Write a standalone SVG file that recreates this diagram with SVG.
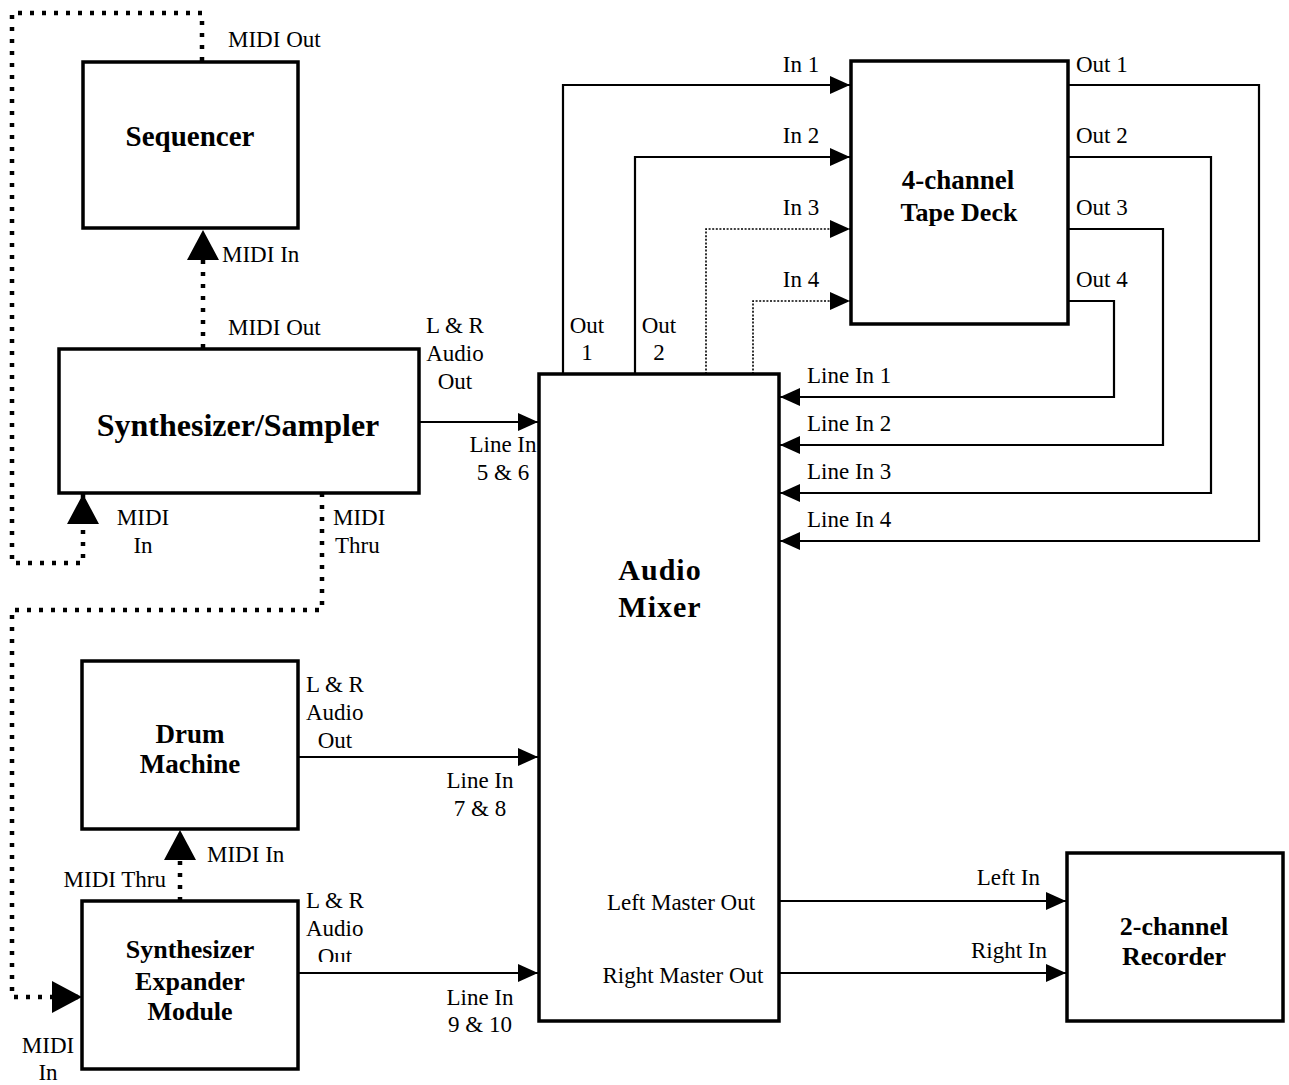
<svg xmlns="http://www.w3.org/2000/svg" width="1289" height="1085" viewBox="0 0 1289 1085">
<style>
.box{fill:#fff;stroke:#000;stroke-width:3.5}
.t{font-family:"Liberation Serif","Times New Roman",serif;font-size:23px;fill:#000}
.b{font-family:"Liberation Serif","Times New Roman",serif;font-weight:bold;fill:#000;text-anchor:middle}
.m{text-anchor:middle}
.e{text-anchor:end}
.solid{fill:none;stroke:#000;stroke-width:2.2}
.thin{fill:none;stroke:#000;stroke-width:1.6;stroke-dasharray:2 1.6}
.midi{fill:none;stroke:#000;stroke-width:4.5;stroke-dasharray:4 8}
</style>
<defs>
<marker id="a" markerUnits="userSpaceOnUse" markerWidth="22" markerHeight="20" refX="20" refY="9" orient="auto"><path d="M0,0 L20,9 L0,18 Z" fill="#000"/></marker>
<marker id="big" markerUnits="userSpaceOnUse" markerWidth="32" markerHeight="34" refX="30" refY="16" orient="auto"><path d="M0,0 L30,16 L0,32 Z" fill="#000"/></marker>
<clipPath id="clipOut"><rect x="290" y="940" width="100" height="22"/></clipPath>
</defs>
<rect width="1289" height="1085" fill="#fff"/>
<g id="connectors">
<path class="midi" d="M202,61 V13 H12 V563 H83 V494" marker-end="url(#big)"/>
<path class="midi" d="M203,348 V230" marker-end="url(#big)"/>
<path class="midi" d="M322,493 V610 H12 V997 H82" marker-end="url(#big)"/>
<path class="midi" d="M180,901 V830" marker-end="url(#big)"/>
<path class="solid" d="M419,422 H538" marker-end="url(#a)"/>
<path class="solid" d="M298,757 H538" marker-end="url(#a)"/>
<path class="solid" d="M298,973 H538" marker-end="url(#a)"/>
<path class="solid" d="M563,374 V85 H850" marker-end="url(#a)"/>
<path class="solid" d="M635,374 V157 H850" marker-end="url(#a)"/>
<path class="thin" d="M706,374 V229 H850" marker-end="url(#a)"/>
<path class="thin" d="M753,374 V301 H850" marker-end="url(#a)"/>
<path class="solid" d="M1068,85 H1259 V541 H780" marker-end="url(#a)"/>
<path class="solid" d="M1068,157 H1211 V493 H780" marker-end="url(#a)"/>
<path class="solid" d="M1068,229 H1163 V445 H780" marker-end="url(#a)"/>
<path class="solid" d="M1068,301 H1114 V397 H780" marker-end="url(#a)"/>
<path class="solid" d="M779,901 H1066" marker-end="url(#a)"/>
<path class="solid" d="M779,973 H1066" marker-end="url(#a)"/>
<text class="t" x="228" y="47">MIDI Out</text>
<text class="t" x="222" y="262">MIDI In</text>
<text class="t" x="228" y="335">MIDI Out</text>
<text class="t m" x="143" y="525">MIDI</text>
<text class="t m" x="143" y="553">In</text>
<text class="t" x="333" y="525">MIDI</text>
<text class="t" x="335" y="553">Thru</text>
<text class="t m" x="455" y="333">L &amp; R</text>
<text class="t m" x="455" y="361">Audio</text>
<text class="t m" x="455" y="389">Out</text>
<text class="t m" x="503" y="452">Line In</text>
<text class="t m" x="503" y="480">5 &amp; 6</text>
<text class="t" x="306" y="692">L &amp; R</text>
<text class="t" x="306" y="720">Audio</text>
<text class="t m" x="335" y="748">Out</text>
<text class="t m" x="480" y="788">Line In</text>
<text class="t m" x="480" y="816">7 &amp; 8</text>
<text class="t" x="207" y="862">MIDI In</text>
<text class="t e" x="166" y="887">MIDI Thru</text>
<text class="t" x="306" y="908">L &amp; R</text>
<text class="t" x="306" y="936">Audio</text>
<text class="t m" x="335" y="964" clip-path="url(#clipOut)">Out</text>
<text class="t m" x="480" y="1005">Line In</text>
<text class="t m" x="480" y="1032">9 &amp; 10</text>
<text class="t m" x="48" y="1053">MIDI</text>
<text class="t m" x="48" y="1080">In</text>
<text class="t m" x="801" y="72">In 1</text>
<text class="t m" x="801" y="143">In 2</text>
<text class="t m" x="801" y="215">In 3</text>
<text class="t m" x="801" y="287">In 4</text>
<text class="t m" x="587" y="333">Out</text>
<text class="t m" x="587" y="360">1</text>
<text class="t m" x="659" y="333">Out</text>
<text class="t m" x="659" y="360">2</text>
<text class="t" x="1076" y="72">Out 1</text>
<text class="t" x="1076" y="143">Out 2</text>
<text class="t" x="1076" y="215">Out 3</text>
<text class="t" x="1076" y="287">Out 4</text>
<text class="t" x="807" y="383">Line In 1</text>
<text class="t" x="807" y="431">Line In 2</text>
<text class="t" x="807" y="479">Line In 3</text>
<text class="t" x="807" y="527">Line In 4</text>
<text class="t e" x="1040" y="885">Left In</text>
<text class="t e" x="1047" y="958">Right In</text>
</g>
<g id="sequencer">
<rect class="box" x="83" y="62" width="215" height="166"/>
<text class="b" x="190" y="146" font-size="29">Sequencer</text>
</g>
<g id="synth-sampler">
<rect class="box" x="59" y="349" width="360" height="144"/>
<text class="b" x="238" y="436" font-size="32">Synthesizer/Sampler</text>
</g>
<g id="audio-mixer">
<rect class="box" x="539" y="374" width="240" height="647"/>
<text class="b" x="660" y="580" font-size="30" letter-spacing="1">Audio</text>
<text class="b" x="660" y="617" font-size="30" letter-spacing="1">Mixer</text>
<text class="t m" x="681" y="910">Left Master Out</text>
<text class="t m" x="683" y="983">Right Master Out</text>
</g>
<g id="tape-deck">
<rect class="box" x="851" y="61" width="217" height="263"/>
<text class="b" x="958" y="189" font-size="27">4-channel</text>
<text class="b" x="959" y="221" font-size="26">Tape Deck</text>
</g>
<g id="drum-machine">
<rect class="box" x="82" y="661" width="216" height="168"/>
<text class="b" x="190" y="743" font-size="27">Drum</text>
<text class="b" x="190" y="773" font-size="27">Machine</text>
</g>
<g id="expander">
<rect class="box" x="82" y="901" width="216" height="168"/>
<text class="b" x="190" y="958" font-size="26">Synthesizer</text>
<text class="b" x="190" y="990" font-size="26">Expander</text>
<text class="b" x="190" y="1020" font-size="26">Module</text>
</g>
<g id="recorder">
<rect class="box" x="1067" y="853" width="216" height="168"/>
<text class="b" x="1174" y="935" font-size="26">2-channel</text>
<text class="b" x="1174" y="965" font-size="26">Recorder</text>
</g>
</svg>
